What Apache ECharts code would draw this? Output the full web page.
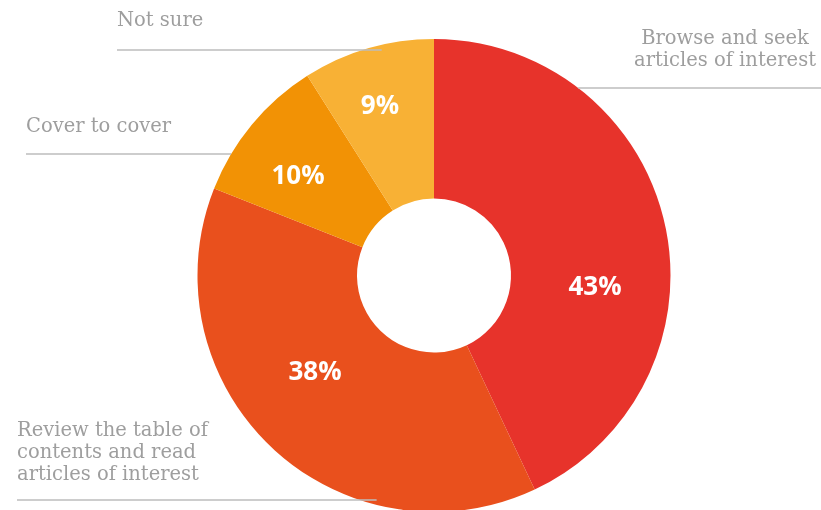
<!DOCTYPE html>
<html>
<head>
<meta charset="utf-8">
<script src="https://cdn.jsdelivr.net/npm/echarts@6/dist/echarts.min.js"></script>
<style>
  html, body { margin: 0; padding: 0; background: #ffffff; }
  #chart { width: 821px; height: 510px; }
</style>
</head>
<body>
<div id="chart"></div>
<script>
// Reading habits: how readers go through an issue
const categories = [
  'Browse and seek\narticles of interest',
  'Review the table of\ncontents and read\narticles of interest',
  'Cover to cover',
  'Not sure'
];
const shares = [43, 38, 10, 9];
const sliceColors = ['#e7332b', '#e9501d', '#f29205', '#f8b135'];

// Ring geometry (px)
const CENTER = [434, 275.5];
const R_IN = 77;
const R_OUT = 236.5;
const WIDTH = 821;

// Percentage labels: offset from the ring centre
const valueLabelOffsets = [[161, 12], [-119, 97], [-136, -99], [-54, -169]];

// Category labels: text anchor, rule height and how the rule meets the ring
const nameLabelLayout = [
  { side: 'right', x: 725, y: 28,  align: 'center', ruleY: 88,  overrun: 0 },
  { side: 'left',  x: 17,  y: 420, align: 'left',   ruleY: 500, overrun: 17 },
  { side: 'left',  x: 26,  y: 116, align: 'left',   ruleY: 154, overrun: 0 },
  { side: 'left',  x: 117, y: 10,  align: 'left',   ruleY: 50,  overrun: 19 }
];

const data = categories.map((name, i) => ({
  name: name,
  value: shares[i],
  itemStyle: { color: sliceColors[i] }
}));

const chart = echarts.init(document.getElementById('chart'), null, { renderer: 'canvas' });

chart.setOption({
  animation: false,
  backgroundColor: '#ffffff',
  series: [
    {
      type: 'pie',
      center: CENTER,
      radius: [R_IN, R_OUT],
      startAngle: 90,
      clockwise: true,
      avoidLabelOverlap: false,
      silent: true,
      itemStyle: { borderWidth: 0 },
      label: {
        show: true,
        position: 'inside',
        formatter: '{c}%',
        color: '#ffffff',
        fontFamily: '"Open Sans", sans-serif',
        fontWeight: 'bold',
        fontSize: 26
      },
      labelLine: { show: false },
      labelLayout: function (p) {
        const off = valueLabelOffsets[p.dataIndex];
        return {
          x: CENTER[0] + off[0],
          y: CENTER[1] + off[1],
          align: 'center',
          verticalAlign: 'middle'
        };
      },
      data: data
    },
    {
      type: 'pie',
      z: 3,
      center: CENTER,
      radius: [R_IN, R_OUT],
      startAngle: 90,
      clockwise: true,
      avoidLabelOverlap: false,
      silent: true,
      itemStyle: { color: 'rgba(0,0,0,0)', borderWidth: 0 },
      label: {
        show: true,
        position: 'outside',
        formatter: '{b}',
        color: '#9e9e9e',
        fontFamily: '"DejaVu Serif", serif',
        fontSize: 19.5,
        lineHeight: 22
      },
      labelLine: {
        show: true,
        lineStyle: { color: '#bcbcbc', width: 1.5 }
      },
      labelLayout: function (p) {
        const L = nameLabelLayout[p.dataIndex];
        const dy = L.ruleY - CENTER[1];
        const half = Math.sqrt(Math.max(R_OUT * R_OUT - dy * dy, 0));
        const points = L.side === 'left'
          ? [[L.x, L.ruleY], [CENTER[0] - half + L.overrun, L.ruleY]]
          : [[CENTER[0] + half - L.overrun, L.ruleY], [WIDTH, L.ruleY]];
        return {
          x: L.x,
          y: L.y,
          align: L.align,
          verticalAlign: 'top',
          labelLinePoints: points
        };
      },
      data: categories.map((name, i) => ({ name: name, value: shares[i] }))
    }
  ]
});
</script>
</body>
</html>
